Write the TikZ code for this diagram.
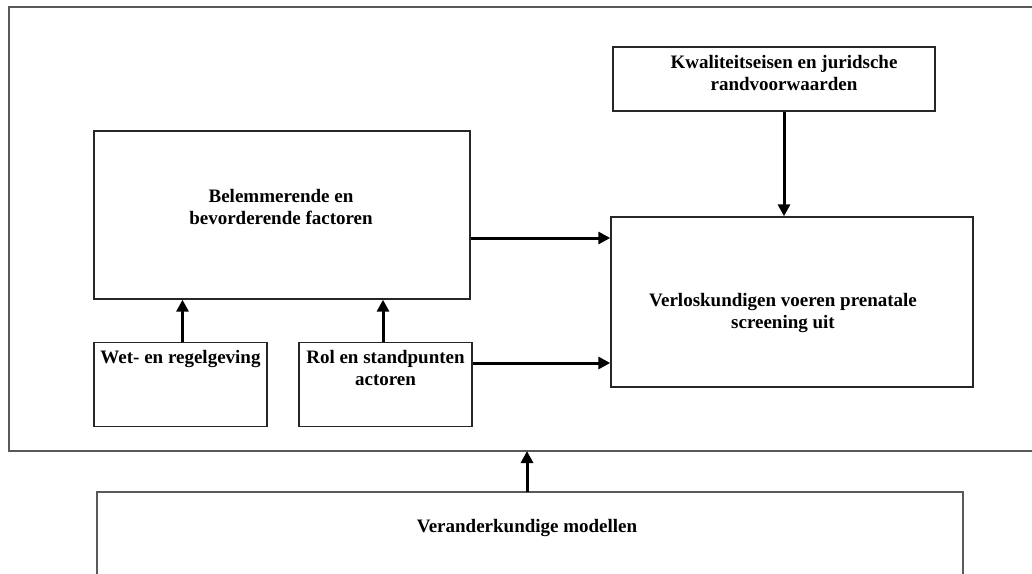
\documentclass[tikz,border=0pt]{standalone}
\usepackage{fontspec}
\setmainfont{Liberation Serif}
\usetikzlibrary{arrows.meta}
\usetikzlibrary{positioning}

\begin{document}
\begin{tikzpicture}[
    x=1pt, y=-1pt,
    font=\fontsize{19}{22}\selectfont\bfseries,
    box/.style={draw=black!85, line width=1.4pt, inner sep=0pt},
    flow/.style={-{Triangle[length=12pt,width=12pt]}, line width=3pt},
    lbl/.style={align=center, inner sep=0pt},
 ]
    \useasboundingbox (0,0) rectangle (1032,573);
    % outer frame and bottom box run off the page
    \draw[black!65, line width=1.6pt] (1045,7) -- (9,7) -- (9,451) -- (1045,451);
    \draw[black!65, line width=1.6pt] (97,585) -- (97,492) -- (963,492) -- (963,585);
    \coordinate (frame) at (527,451);
    \coordinate (models) at (527,492);

    \node[box, minimum width=322pt, minimum height=64pt] (kwal) at (774,79) {};
    \node[box, minimum width=362pt, minimum height=170pt] (verl) at (792,302) {};
    \node[box, minimum width=376pt, minimum height=168pt] (belem) at (282,215) {};
    \node[box, minimum width=173pt, minimum height=84pt] (wet) at (180.5,384.5) {};
    \node[box, minimum width=173pt, minimum height=84pt] (rol) at (385.5,384.5) {};

    \node[lbl] (kwaltxt) at (784,73) {Kwaliteitseisen en juridsche\\randvoorwaarden};
    \node[lbl] (verltxt) at (783,313) {Verloskundigen voeren prenatale\\screening uit};
    \node[lbl] (belemtxt) at (281,207) {Belemmerende en\\bevorderende factoren};
    \node[lbl, below=8pt of wet.north] (wettxt) {Wet- en regelgeving};
    \node[lbl, below=8pt of rol.north] (roltxt) {Rol en standpunten\\actoren};
    \node[lbl] (modtxt) at (527,528) {Veranderkundige modellen};

    \draw[flow] (kwal.south -| verl.north) ++(-8,0) coordinate (k1) -- (k1 |- verl.north);
    \draw[flow] (belem.east |- 0,238) -- (verl.west |- 0,238);
    \draw[flow] (rol.east |- 0,363) -- (verl.west |- 0,363);
    \draw[flow] (wet.north) ++(2,0) coordinate (w1) -- (w1 |- belem.south);
    \draw[flow] (rol.north) ++(-2.5,0) coordinate (r1) -- (r1 |- belem.south);
    \draw[flow] (models) -- (frame);
\end{tikzpicture}
\end{document}
